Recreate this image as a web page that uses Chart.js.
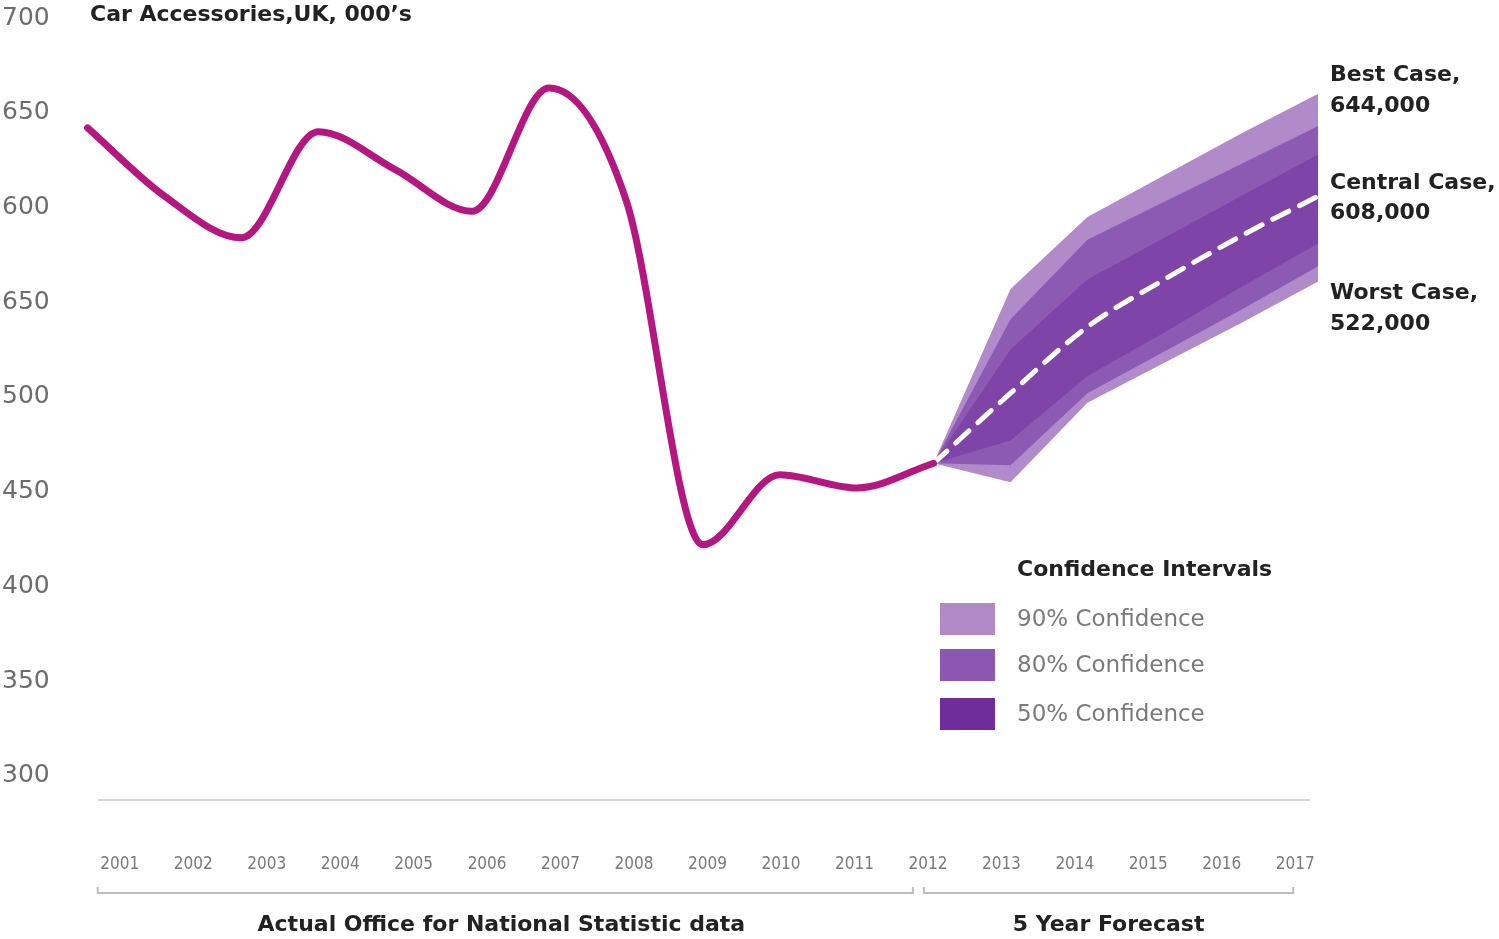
<!DOCTYPE html>
<html>
<head>
<meta charset="utf-8">
<title>Car Accessories, UK, 000's</title>
<script src="https://cdn.jsdelivr.net/npm/chart.js@4.4.0/dist/chart.umd.min.js"></script>
<style>
  html, body { margin: 0; padding: 0; background: #fff; }
</style>
</head>
<body>
<canvas id="chart" width="1499" height="939"></canvas>
<script>
// actual data (ONS), 000's
const histYears = [2001, 2002, 2003, 2004, 2005, 2006, 2007, 2008, 2009, 2010, 2011, 2012];
const histValues = [642, 606, 584, 640, 620, 598, 663, 604, 422, 459, 452, 465];

// 5 year forecast
const fcYears = [2012, 2013, 2014, 2015, 2016, 2017];
const central = [465, 502, 537, 562, 585, 606];
const upper50 = [465, 525, 562, 584, 606, 628];
const lower50 = [465, 477, 511, 534, 558, 581];
const upper80 = [465, 541, 583, 603, 623, 643];
const lower80 = [465, 464, 502, 524, 546, 569];
const upper90 = [465, 557, 595, 617, 639, 660];
const lower90 = [465, 455, 497, 518, 539, 561];

const xLabels = ["2001", "2002", "2003", "2004", "2005", "2006", "2007", "2008", "2009",
  "2010", "2011", "2012", "2013", "2014", "2015", "2016", "2017"];
const yTicks = [300, 350, 400, 450, 500, 550, 600, 650, 700];
const yTickLabels = ["300", "350", "400", "450", "500", "650", "600", "650", "700"];

const FONT = "'DejaVu Sans', Verdana, sans-serif";
const FONT_COND = "'DejaVu Sans Condensed', 'DejaVu Sans', sans-serif";

function pts(xs, ys) {
  return xs.map((x, i) => ({ x: x, y: ys[i] }));
}

function band(data, fillTarget, color, order) {
  return {
    data: data,
    borderWidth: 0,
    pointRadius: 0,
    tension: 0,
    fill: fillTarget === null ? false : fillTarget,
    backgroundColor: color,
    borderColor: "rgba(0,0,0,0)",
    order: order
  };
}

// texts, baseline, brackets and legend
const annotations = {
  id: "annotations",
  afterDraw(chart) {
    const ctx = chart.ctx;
    const area = chart.chartArea;
    const xc = chart.scales.xc;
    const px = (i) => xc.getPixelForValue(i);
    ctx.save();

    // baseline
    ctx.strokeStyle = "#d4d4d4";
    ctx.lineWidth = 2;
    ctx.beginPath();
    ctx.moveTo(area.left + 15, area.bottom);
    ctx.lineTo(area.right - 22, area.bottom);
    ctx.stroke();

    // brackets under the year labels
    ctx.strokeStyle = "#bdbdbd";
    const by = 893;
    const brackets = [[px(0) - 22, px(11) - 15], [px(11) - 4, px(16) - 2]];
    brackets.forEach(([a, b]) => {
      ctx.beginPath();
      ctx.moveTo(a, by - 6);
      ctx.lineTo(a, by);
      ctx.lineTo(b, by);
      ctx.lineTo(b, by - 6);
      ctx.stroke();
    });

    ctx.fillStyle = "#222";
    ctx.font = "bold 22px " + FONT;
    ctx.textBaseline = "middle";
    ctx.textAlign = "center";
    ctx.fillText("Actual Office for National Statistic data", (brackets[0][0] + brackets[0][1]) / 2 - 4, 925);
    ctx.fillText("5 Year Forecast", (brackets[1][0] + brackets[1][1]) / 2, 925);

    // title
    ctx.textAlign = "left";
    ctx.fillText("Car Accessories,UK, 000\u2019s", 90, 15);

    // case labels
    const lx = area.right - 2;
    ctx.fillText("Best Case,", lx, 75);
    ctx.fillText("644,000", lx, 106);
    ctx.fillText("Central Case,", lx, 183);
    ctx.fillText("608,000", lx, 213);
    ctx.fillText("Worst Case,", lx, 293);
    ctx.fillText("522,000", lx, 324);

    // legend
    ctx.fillText("Confidence Intervals", 1017, 570);
    const legendItems = [
      ["90% Confidence", "#b08ac9", 603],
      ["80% Confidence", "#8b57b2", 649],
      ["50% Confidence", "#6e2d99", 698]
    ];
    ctx.font = "23px " + FONT;
    legendItems.forEach(([label, color, y]) => {
      ctx.fillStyle = color;
      ctx.fillRect(940, y, 55, 32);
      ctx.fillStyle = "#7a7a7a";
      ctx.fillText(label, 1017, y + 17);
    });

    ctx.restore();
  }
};

const ctx = document.getElementById("chart").getContext("2d");
new Chart(ctx, {
  type: "line",
  data: {
    datasets: [
      {
        data: pts(histYears, histValues),
        borderColor: "#b4177f",
        borderWidth: 7,
        borderCapStyle: "round",
        pointRadius: 0,
        cubicInterpolationMode: "monotone",
        fill: false,
        order: 0
      },
      {
        data: pts(fcYears, central),
        borderColor: "#ffffff",
        borderWidth: 5,
        borderDash: [18, 12],
        borderCapStyle: "round",
        pointRadius: 0,
        cubicInterpolationMode: "monotone",
        fill: false,
        order: 1
      },
      band(pts(fcYears, upper50), null, "#7e44a7", 2),
      band(pts(fcYears, lower50), 2, "#7e44a7", 2),
      band(pts(fcYears, upper80), null, "#8c5ab3", 3),
      band(pts(fcYears, lower80), 4, "#8c5ab3", 3),
      band(pts(fcYears, upper90), null, "#b08ac9", 4),
      band(pts(fcYears, lower90), 6, "#b08ac9", 4)
    ]
  },
  options: {
    responsive: false,
    animation: false,
    layout: { padding: { left: 2, top: 18, right: 167, bottom: 0 } },
    plugins: {
      legend: { display: false },
      tooltip: { enabled: false }
    },
    scales: {
      x: {
        type: "linear",
        display: false,
        min: 2000.94,
        max: 2017.18
      },
      xc: {
        type: "category",
        labels: xLabels,
        offset: true,
        position: "bottom",
        grid: { display: false },
        border: { display: false },
        ticks: {
          padding: 46,
          maxRotation: 0,
          autoSkip: false,
          color: "#7a7a7a",
          font: { family: FONT_COND, size: 17 }
        },
        afterFit(axis) { axis.height = 139; }
      },
      y: {
        min: 287.3,
        max: 700,
        grid: { display: false },
        border: { display: false },
        afterBuildTicks(axis) {
          axis.ticks = yTicks.map(v => ({ value: v }));
        },
        ticks: {
          crossAlign: "far",
          color: "#6d6d6d",
          font: { family: FONT, size: 25 },
          callback: (value, index) => yTickLabels[index]
        },
        afterFit(axis) { axis.width = 81; }
      }
    }
  },
  plugins: [annotations]
});
</script>
</body>
</html>
